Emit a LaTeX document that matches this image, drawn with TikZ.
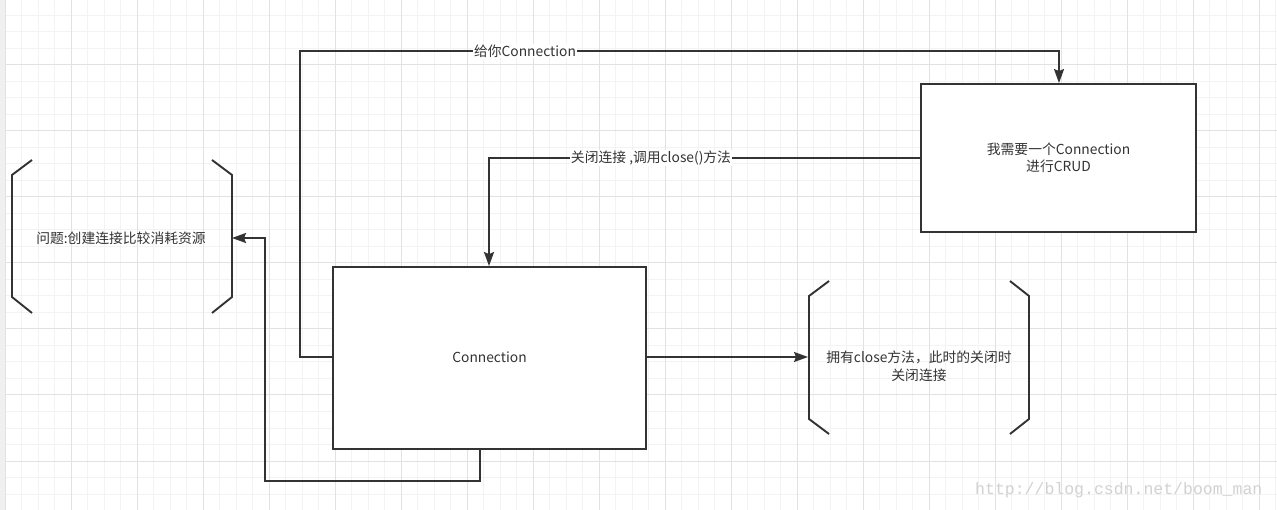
\documentclass[tikz,border=0pt]{standalone}
\usepackage{fontspec}
\setmainfont{Noto Sans CJK SC}
\newfontfamily\wmfont{Liberation Mono}
\usetikzlibrary{arrows.meta}
\definecolor{ink}{RGB}{51,51,51}
\definecolor{gridminor}{RGB}{243,243,243}
\definecolor{gridmajor}{RGB}{226,226,226}
\definecolor{strip}{RGB}{240,240,240}
\definecolor{wm}{RGB}{210,210,210}
\tikzset{
  boxnode/.style={draw=ink, line width=1.9pt, fill=white, inner sep=0pt},
  lbl/.style={font=\fontsize{13.8}{17.5}\selectfont, text=ink, align=center},
  edgelbl/.style={font=\fontsize{13.8}{17.5}\selectfont, text=ink, fill=white, inner sep=1pt},
  conn/.style={draw=ink, line width=1.9pt, -{Stealth[length=14pt,width=10pt,inset=2pt]}},
  brk/.style={draw=ink, line width=1.9pt},
}
\begin{document}
\begin{tikzpicture}[x=1pt,y=-1pt]
\useasboundingbox (0,0) rectangle (1277,510);
\fill[white] (0,0) rectangle (1277,510);
% grid
\foreach \k in {0,...,77} {
  \pgfmathsetmacro{\xx}{5+16.5*\k}
  \draw[gridminor, line width=1pt] (\xx,0) -- (\xx,510);
}
\foreach \k in {0,...,31} {
  \pgfmathsetmacro{\yy}{-1+16.5*\k}
  \draw[gridminor, line width=1pt] (5,\yy) -- (1277,\yy);
}
\foreach \k in {0,...,19} {
  \pgfmathsetmacro{\xx}{5+66*\k}
  \draw[gridmajor, line width=1pt] (\xx,0) -- (\xx,510);
}
\foreach \k in {0,...,7} {
  \pgfmathsetmacro{\yy}{-1+66*\k}
  \draw[gridmajor, line width=1pt] (5,\yy) -- (1277,\yy);
}
\fill[strip] (0,0) rectangle (5,510);

% boxes
\node[boxnode, minimum width=275pt, minimum height=148pt] (need) at (1058.5,158) {};
\node[lbl] (needtxt) at (1058.5,158) {我需要一个Connection\\进行CRUD};
\node[boxnode, minimum width=313pt, minimum height=182pt] (conn) at (489.5,358) {};
\node[lbl] (conntxt) at (489.5,357) {Connection};

% left bracket shape
\coordinate (lb) at (232,238);
\draw[brk] (32,160) -- (12,175) -- (12,297) -- (32,313);
\draw[brk] (212,160) -- (232,175) -- (232,297) -- (212,313);
\node[lbl] (prob) at (121,238) {问题:创建连接比较消耗资源};

% right bracket shape
\coordinate (rb) at (808,357);
\draw[brk] (829,281) -- (809,296) -- (809,419) -- (829,434);
\draw[brk] (1010,281) -- (1029,296) -- (1029,419) -- (1010,434);
\node[lbl] (own) at (919,366) {拥有close方法，此时的关闭时\\关闭连接};

% connectors
\draw[conn] (conn.west |- 0,357) -- (300,357) -- (300,51) -- (1059,51) -- (need.north -| 1059,0);
\node[edgelbl] (l1) at (525,51) {给你Connection};
\draw[conn] (need.west |- 0,158) -- (489,158) -- (conn.north -| 489,0);
\node[edgelbl] (l2) at (651,158) {关闭连接 ,调用close()方法};
\draw[conn] (conn.south -| 480,0) -- (480,481) -- (265,481) -- (265,238) -- (lb);
\draw[conn] (conn.east |- 0,357) -- (rb);

% watermark
\node[font=\wmfont\fontsize{16.5}{18}\selectfont, text=wm, anchor=west, inner sep=0pt] (wmk) at (975,490) {http://blog.csdn.net/boom\_man};
\end{tikzpicture}
\end{document}
